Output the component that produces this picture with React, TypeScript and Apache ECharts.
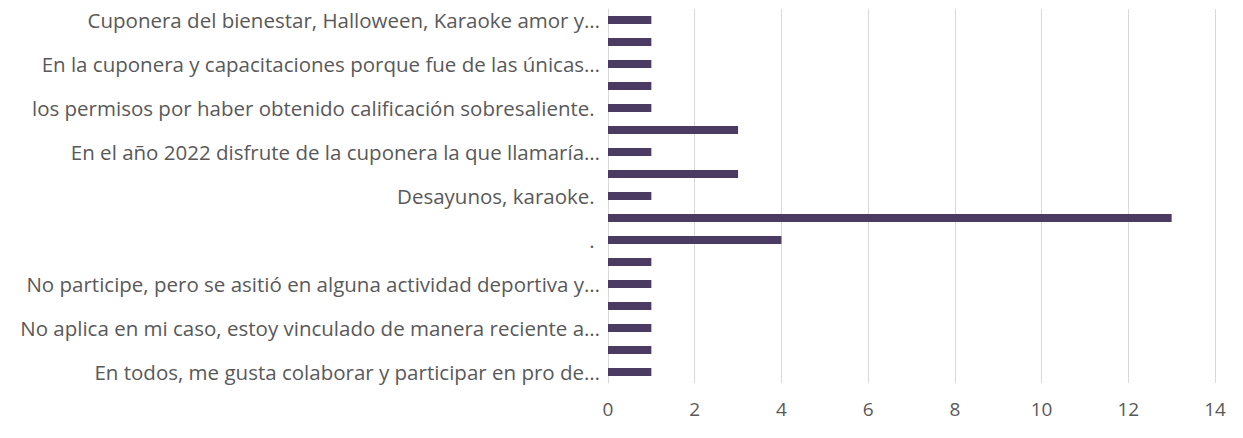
import React, { useEffect, useRef } from "react";
import * as echarts from "echarts";

// Categories listed bottom to top (category axis index 0 is at the bottom)
const categories: string[] = [
  "En todos, me gusta colaborar y participar en pro de…",
  "",
  "No aplica en mi caso, estoy vinculado de manera reciente a…",
  "",
  "No participe, pero se asitió en alguna actividad deportiva y…",
  "",
  ". ",
  "",
  "Desayunos, karaoke. ",
  "",
  "En el año 2022 disfrute de la cuponera la que llamaría…",
  "",
  "los permisos por haber obtenido calificación sobresaliente. ",
  "",
  "En la cuponera y capacitaciones porque fue de las únicas…",
  "",
  "Cuponera del bienestar, Halloween, Karaoke amor y…",
];

const values: number[] = [1, 1, 1, 1, 1, 1, 4, 13, 1, 3, 1, 3, 1, 1, 1, 1, 1];

const xTicks: number[] = [0, 2, 4, 6, 8, 10, 12, 14];

export default function App() {
  const ref = useRef<HTMLDivElement>(null);
  useEffect(() => {
    if (!ref.current) return;
    const chart = echarts.init(ref.current, undefined, { renderer: "svg" });
    const font = "Open Sans";
    chart.setOption({
      animation: false,
      grid: {
        left: 608,
        right: 28,
        top: 9,
        bottom: 55,
        containLabel: false,
        outerBoundsMode: "none",
      },
      xAxis: {
        type: "value",
        min: xTicks[0],
        max: xTicks[xTicks.length - 1],
        interval: 2,
        axisLine: { show: false },
        axisTick: { show: false },
        axisLabel: { color: "#595959", fontSize: 19, fontFamily: font, margin: 16 },
        splitLine: { show: true, lineStyle: { color: "#d9d9d9", width: 1 } },
      },
      yAxis: {
        type: "category",
        data: categories,
        axisLine: { show: true, lineStyle: { color: "#d9d9d9", width: 1 } },
        axisTick: { show: false },
        axisLabel: {
          interval: 1,
          color: "#595959",
          fontSize: 20.5,
          fontFamily: font,
          margin: 8,
        },
        splitLine: { show: false },
      },
      series: [
        {
          type: "bar",
          data: values,
          barWidth: 8,
          itemStyle: { color: "#4b3b63" },
        },
      ],
    });
    return () => chart.dispose();
  }, []);
  return (
    <div
      ref={ref}
      style={{ width: 1243, height: 438, marginTop: -8, marginLeft: -8 }}
    />
  );
}
